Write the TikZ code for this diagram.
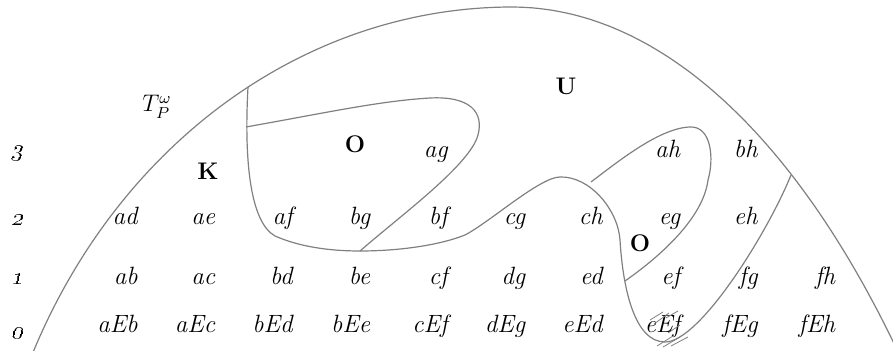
\documentclass[tikz,border=0pt]{standalone}
\usepackage{amsmath}
\usepackage{amssymb}
\definecolor{line-gray}{RGB}{128,128,128}
\tikzset{lbl/.style={anchor=base east, inner sep=0pt, font=\fontsize{12.5}{15}\selectfont\itshape},
         tag/.style={anchor=base, inner sep=0pt, font=\fontsize{12}{14}\selectfont},
         num/.style={anchor=base, inner sep=0pt, font=\fontsize{13}{15}\selectfont, xslant=0.22, transform shape},
         bnd/.style={draw=line-gray, line width=0.6pt}}
\begin{document}
\begin{tikzpicture}[x=0.5pt, y=-0.5pt]
    \clip (0,0) rectangle (893,351);

    % Outer arc (two half ellipses meeting at the top)
    \draw[bnd] plot[domain=158:90, samples=70, variable=\t] ({512+529*cos(\t)}, {607-600*sin(\t)})
        -- plot[domain=90:44, samples=70, variable=\t] ({512+570*cos(\t)}, {1312-1305*sin(\t)});

    % Long boundary from arc to arc
    \draw[bnd] (248,87) .. controls (244,160) and (250,222) .. (275,236)
        .. controls (300,247) and (330,251) .. (360,251)
        .. controls (400,251) and (440,245) .. (465,235)
        .. controls (490,222) and (540,177) .. (560,177)
        .. controls (590,176) and (618,210) .. (620,240)
        .. controls (623,290) and (635,342) .. (665,342)
        .. controls (700,342) and (768,232) .. (791,175);

    % Upper O region
    \draw[bnd] (246,127) .. controls (330,112) and (380,101) .. (430,98)
        .. controls (470,96) and (484,112) .. (478,135)
        .. controls (470,165) and (400,216) .. (360,251);

    % Right O region
    \draw[bnd] (591,182) .. controls (620,160) and (660,128) .. (690,127)
        .. controls (712,126) and (714,160) .. (708,180)
        .. controls (704,212) and (672,248) .. (625,281);

    % Level numbers
    \foreach \n/\y in {3/157, 2/226, 1/285, 0/339} {
        \node[num] (lev-\n) at (17,\y) {\oldstylenums{\n}};
    }

    % Row 3
    \node[lbl] (r3-4) at (448,158) {ag};
    \node[lbl] (r3-7) at (680.5,158) {ah};
    \node[lbl] (r3-8) at (758,158) {bh};

    % Row 2
    \foreach \i/\w in {0/ad, 1/ae, 2/af, 3/bg, 4/bf, 5/cg, 6/ch, 7/eg, 8/eh} {
        \node[lbl] (r2-\i) at ({138+77.5*\i},225) {\w};
    }

    % Row 1
    \foreach \i/\w in {0/ab, 1/ac, 2/bd, 3/be, 4/cf, 5/dg, 6/ed, 7/ef, 8/fg, 9/fh} {
        \node[lbl] (r1-\i) at ({138+77.5*\i},285) {\w};
    }

    % Row 0
    \foreach \i/\w in {0/aEb, 1/aEc, 2/bEd, 3/bEe, 4/cEf, 5/dEg, 6/eEd, 7/eEf, 8/fEg, 9/fEh} {
        \node[lbl] (r0-\i) at ({138+77.5*\i},333) {\w};
    }

    % Hatching over eEf
    \foreach \a/\b/\c/\d in {650/320/663/312, 654/324/669/313, 666/318/678/311, 668/333/680/325,
                            657/346/673/336, 663/347/680/337, 671/346/688/337} {
        \draw[line-gray, line width=0.4pt] (\a,\b) -- (\c,\d);
    }

    % Region names
    \node[tag] (tp) at (157,112) {$T_P^\omega$};
    \node[tag] (kk) at (208,180) {\textbf{K}};
    \node[tag] (o1) at (355,153) {\textbf{O}};
    \node[tag] (o2) at (640,252) {\textbf{O}};
    \node[tag] (uu) at (566,95) {\textbf{U}};
\end{tikzpicture}
\end{document}
